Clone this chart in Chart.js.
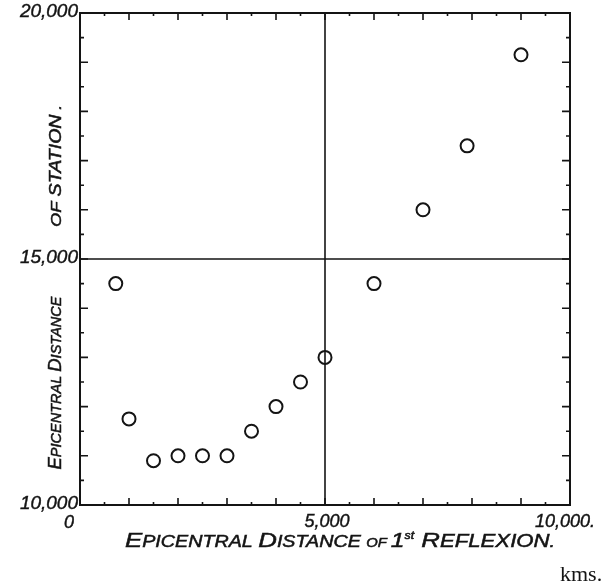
<!DOCTYPE html>
<html>
<head>
<meta charset="utf-8">
<script src="https://cdn.jsdelivr.net/npm/chart.js@4/dist/chart.umd.min.js"></script>
<style>
  html, body { margin: 0; padding: 0; background: #fff; }
  canvas { display: block; }
</style>
</head>
<body>
<canvas id="chart" width="604" height="585"></canvas>
<script>
// Epicentral distance of station vs. epicentral distance of 1st reflexion (kms)
const distReflexion = [730, 1000, 1500, 2000, 2500, 3000, 3500, 4000, 4500, 5000, 6000, 7000, 7900, 9000];
const distStation = [14500, 11750, 10900, 11000, 11000, 11000, 11500, 12000, 12500, 13000, 14500, 16000, 17300, 19150];

const xTickValues = [0, 5000, 10000];
const xTickLabels = ["0", "5,000", "10,000."];
const yTickValues = [10000, 15000, 20000];
const yTickLabels = ["10,000", "15,000", "20,000"];

const INK = "#141414";
const LABEL_FONT = "Liberation Sans";

// text in the hand-lettered "small caps" style: list of [text, fontSize, raise]
function drawParts(ctx, parts, cx, cy, width) {
  ctx.save();
  ctx.textBaseline = "alphabetic";
  ctx.textAlign = "left";
  let total = 0;
  parts.forEach(([t, s]) => {
    ctx.font = `italic ${s}px "${LABEL_FONT}"`;
    total += ctx.measureText(t).width;
  });
  ctx.translate(cx, cy);
  ctx.scale(width / total, 1);
  ctx.lineWidth = 0.5;
  let x = -total / 2;
  parts.forEach(([t, s, raise]) => {
    ctx.font = `italic ${s}px "${LABEL_FONT}"`;
    ctx.fillText(t, x, -(raise || 0));
    ctx.strokeText(t, x, -(raise || 0));
    x += ctx.measureText(t).width;
  });
  ctx.restore();
}

const framePlugin = {
  id: "frame",
  afterDatasetsDraw(chart) {
    const { ctx, chartArea: a, scales } = chart;
    const xs = scales.x, ys = scales.y;
    ctx.save();
    ctx.strokeStyle = INK;
    ctx.fillStyle = INK;

    // reference lines at 5,000 and 15,000
    ctx.lineWidth = 1.6;
    const x5 = xs.getPixelForValue(5000);
    const y15 = ys.getPixelForValue(15000);
    ctx.beginPath();
    ctx.moveTo(x5, a.top); ctx.lineTo(x5, a.bottom);
    ctx.moveTo(a.left, y15); ctx.lineTo(a.right, y15);
    ctx.stroke();

    // frame
    ctx.lineWidth = 2;
    ctx.strokeRect(a.left, a.top, a.right - a.left, a.bottom - a.top);

    // inward ticks every 500, longer every 1000
    ctx.lineWidth = 1.6;
    ctx.beginPath();
    for (let v = 500; v < 10000; v += 500) {
      const px = xs.getPixelForValue(v);
      const len = v % 1000 === 0 ? 7 : 3;
      ctx.moveTo(px, a.bottom); ctx.lineTo(px, a.bottom - len);
      ctx.moveTo(px, a.top); ctx.lineTo(px, a.top + len);
    }
    for (let v = 10500; v < 20000; v += 500) {
      const py = ys.getPixelForValue(v);
      const len = v % 1000 === 0 ? 8 : 4;
      ctx.moveTo(a.left, py); ctx.lineTo(a.left + len, py);
      ctx.moveTo(a.right, py); ctx.lineTo(a.right - len, py);
    }
    ctx.stroke();

    // tick labels
    ctx.lineWidth = 0.4;
    ctx.textBaseline = "middle";
    ctx.font = `italic 19px "${LABEL_FONT}"`;
    ctx.textAlign = "right";
    yTickValues.forEach((v, i) => {
      const py = ys.getPixelForValue(v) - 1;
      ctx.fillText(yTickLabels[i], a.left - 2, py);
      ctx.strokeText(yTickLabels[i], a.left - 2, py);
    });
    ctx.font = `italic 18px "${LABEL_FONT}"`;
    xTickValues.forEach((v, i) => {
      const px = xs.getPixelForValue(v);
      let tx, ty;
      if (i === 0) {
        ctx.textAlign = "right";
        tx = px - 6; ty = a.bottom + 18;
      } else {
        ctx.textAlign = "center";
        tx = px + (i === 1 ? 2 : -5); ty = a.bottom + 17;
      }
      ctx.fillText(xTickLabels[i], tx, ty);
      ctx.strokeText(xTickLabels[i], tx, ty);
    });

    // x axis title
    drawParts(ctx, [
      ["E", 21], ["PICENTRAL ", 16], ["D", 21], ["ISTANCE ", 16],
      ["OF ", 12], ["1", 20], ["st", 10, 8], [" R", 21], ["EFLEXION", 18], [".", 16]
    ], 340, a.bottom + 42, 430);

    // y axis title (rotated)
    ctx.save();
    ctx.translate(54, 0);
    ctx.rotate(-Math.PI / 2);
    drawParts(ctx, [["E", 19], ["PICENTRAL ", 15], ["D", 19], ["ISTANCE", 15]], -383, 7, 173);
    drawParts(ctx, [["OF ", 15], ["STATION", 16], [" .", 14]], -166, 7, 122);
    ctx.restore();

    // units
    ctx.textAlign = "left";
    ctx.textBaseline = "alphabetic";
    ctx.font = `22px "Liberation Serif"`;
    ctx.fillText("kms.", 560, 581);

    ctx.restore();
  }
};

new Chart(document.getElementById("chart"), {
  type: "scatter",
  data: {
    datasets: [{
      label: "Epicentral distance of station",
      data: distReflexion.map((x, i) => ({ x, y: distStation[i] })),
      pointRadius: 6.5,
      pointHoverRadius: 6.5,
      pointBorderWidth: 2,
      pointBorderColor: INK,
      pointBackgroundColor: "#fff",
    }],
  },
  options: {
    responsive: false,
    animation: false,
    events: [],
    layout: { padding: { left: 80, right: 34, top: 13, bottom: 80 } },
    plugins: { legend: { display: false }, tooltip: { enabled: false } },
    scales: {
      x: { type: "linear", min: 0, max: 10000, display: false },
      y: { type: "linear", min: 10000, max: 20000, display: false },
    },
  },
  plugins: [framePlugin],
});
</script>
</body>
</html>
